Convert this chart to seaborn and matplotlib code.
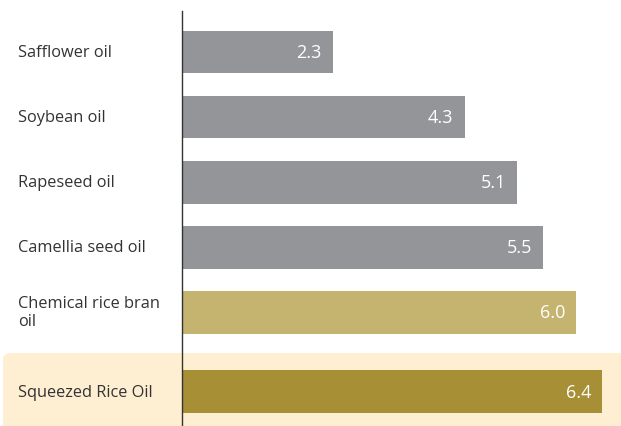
import matplotlib
matplotlib.use("Agg")
import matplotlib.pyplot as plt
from matplotlib.patches import FancyBboxPatch
import matplotlib.transforms as mtransforms
import seaborn as sns
import pandas as pd

# Data
oils = ["Safflower oil", "Soybean oil", "Rapeseed oil", "Camellia seed oil",
        "Chemical rice bran\noil", "Squeezed Rice Oil"]
values = [2.3, 4.3, 5.1, 5.5, 6.0, 6.4]
groups = ["other", "other", "other", "other", "chemical", "squeezed"]

# Layout: vertical slot of each bar (the highlighted row sits a bit lower)
slots = [0, 1, 2, 3, 4, 5.22]
palette = {"other": "#939598", "chemical": "#C5B370", "squeezed": "#A68F35"}

df = pd.DataFrame({"oil": oils, "value": values, "group": groups, "slot": slots})

sns.set_theme(style="white")
plt.rcParams["font.family"] = ["Open Sans", "DejaVu Sans"]

W, H = 621, 427
fig = plt.figure(figsize=(W / 100, H / 100), dpi=100)
fig.patch.set_facecolor("white")

# Highlight band behind the last row
band = FancyBboxPatch((3 / W, -20 / H), (W - 3) / W + 0.02, (427 - 354 + 20) / H,
                      boxstyle="round,pad=0,rounding_size=0.015",
                      transform=fig.transFigure, facecolor="#FEEFD3",
                      edgecolor="none", zorder=0)
fig.patches.append(band)

ax = fig.add_axes([182 / W, 0, (W - 182) / W, (427 - 12) / H])
ax.set_facecolor("none")
ax.set_zorder(2)

sns.barplot(data=df, x="value", y="slot", hue="group", palette=palette,
            orient="h", native_scale=True, width=0.66, dodge=False,
            legend=False, saturation=1, linewidth=0, edgecolor="none", ax=ax)

ax.set_xlim(0, (W - 182) / 65.7)
ax.set_ylim(5.75, -0.63)
ax.set_xticks([])
ax.set_yticks([])
ax.set_xlabel("")
ax.set_ylabel("")
for side in ["top", "right", "bottom"]:
    ax.spines[side].set_visible(False)
ax.spines["left"].set_color("#333333")
ax.spines["left"].set_linewidth(1.0)

# Value labels inside the bar ends
for v, s in zip(values, slots):
    ax.annotate(f"{v:.1f}", xy=(v, s), xytext=(-8, 0), textcoords="offset points",
                ha="right", va="center", color="white", fontsize=13)

# Category labels at the left edge
trans = mtransforms.blended_transform_factory(fig.transFigure, ax.transData)
for name, s in zip(oils, slots):
    ax.text(18 / W, s, name, transform=trans, ha="left", va="center",
            color="#333333", fontsize=11.8, linespacing=1.2, clip_on=False)

fig.savefig("out.png", dpi=100)
